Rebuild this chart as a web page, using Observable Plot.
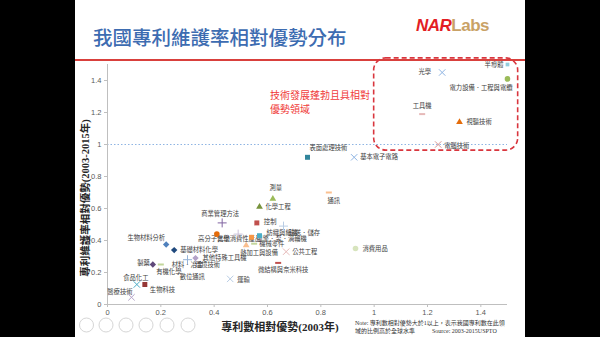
<!DOCTYPE html>
<html><head><meta charset="utf-8">
<script src="https://cdn.jsdelivr.net/npm/d3@7"></script>
<script src="https://cdn.jsdelivr.net/npm/@observablehq/plot@0.6"></script>
<style>
body{margin:0;width:600px;height:337px;background:#000;overflow:hidden;position:relative;font-family:"Noto Sans CJK TC",sans-serif}
#slide{position:absolute;left:75px;top:0;width:450px;height:337px;background:#fff}
.abs{position:absolute;white-space:nowrap}
#chart{position:absolute;left:75px;top:50px}
</style></head><body>
<div id="slide"></div>
<div class="abs" style="left:93px;top:25px;font-size:19.5px;line-height:24px;color:#3d6cb1;font-weight:500">我國專利維護率相對優勢分布</div>
<div class="abs" style="left:416px;top:16px;font-size:17px;line-height:20px;font-family:'Liberation Sans',Arial,sans-serif;font-weight:bold;letter-spacing:-0.5px"><span style="color:#e31e24;font-style:italic">NAR</span><span style="color:#c9a266">Labs</span></div>
<div class="abs" style="left:75px;top:59px;width:450px;height:2px;background:#d9403c"></div>
<div id="chart"></div>
<div class="abs" style="left:270px;top:88px;font-size:10px;line-height:14px;color:#f03c3c">技術發展蓬勃且具相對<br>優勢領域</div>
<div class="abs" style="left:84px;top:198px;transform:translate(-50%,-50%) rotate(-90deg);font-size:10.5px;font-weight:bold;color:#262626;font-family:'Liberation Serif','Noto Sans CJK TC',serif">專利維護率相對優勢(2003-2015年)</div>
<div class="abs" style="left:280px;top:326px;transform:translate(-50%,-50%);font-size:11px;font-weight:bold;color:#262626;font-family:'Liberation Serif','Noto Sans CJK TC',serif">專利數相對優勢(2003年)</div>
<div class="abs" style="left:355px;top:319px;font-size:6px;line-height:8px;color:#333;font-family:'Liberation Serif','Noto Sans CJK TC',serif">Note: 專利數相對優勢大於1以上，表示我國專利數在此領<br>域的比例高於全球水準</div>
<div class="abs" style="left:432px;top:327px;font-size:6px;line-height:8px;color:#333;font-family:'Liberation Serif','Noto Sans CJK TC',serif">Source: 2003-2015USPTO</div>
<svg class="abs" style="left:78px;top:316px" width="120" height="18">
  <g fill="none" stroke="#d6d6d6" stroke-width="1">
    <circle cx="8.5" cy="9" r="7"/><circle cx="28" cy="9" r="7"/><circle cx="48" cy="9" r="7"/>
    <circle cx="68" cy="9" r="7"/><circle cx="89" cy="9" r="7"/><circle cx="110" cy="9" r="7"/>
  </g>
</svg>
<script>
// ---- data ----
const names = ["半導體","光學","電力設備．工程與電纜","工具機","視聽技術","電腦技術","表面處理技術","基本電子電路","通訊","測量","化學工程","控制","商業管理方法","輸送．儲存","其他消費性產品","高分子化學","引擎．泵．渦輪機","紡織與紙機","熱加工與設備","機械零件","公共工程","微結構與奈米科技","消費用品","運輸","其他特殊工具機","材料．冶金","環境技術","有機化學","製藥","數位通訊","基礎材料化學","生物材料分析","食品化工","生物科技","醫療技術"];
const patentShare = [1.50,1.255,1.50,1.18,1.32,1.24,0.75,0.925,0.83,0.62,0.57,0.56,0.43,0.66,0.49,0.41,0.54,0.57,0.52,0.55,0.67,0.64,0.93,0.46,0.33,0.30,0.375,0.20,0.17,0.318,0.25,0.22,0.11,0.14,0.09];
const maintainRate = [1.50,1.45,1.41,1.19,1.14,1.00,0.92,0.92,0.70,0.66,0.61,0.51,0.51,0.49,0.44,0.44,0.42,0.43,0.37,0.38,0.33,0.26,0.35,0.16,0.29,0.28,0.244,0.25,0.25,0.169,0.34,0.375,0.125,0.125,0.045];
const xTicks = [0,0.2,0.4,0.6,0.8,1,1.2,1.4];
const xTickLabels = ["0","0.2","0.4","0.6","0.8","1","1.2","1.4"];
const yTicks = [0,0.2,0.4,0.6,0.8,1,1.2,1.4];
const yTickLabels = ["0","0.2","0.4","0.6","0.8","1","1.2","1.4"];
const referenceLevel = [1];
const regionX = [1.0, 1.54];
const regionY = [0.962, 1.538];

// ---- styling (keyed by name) ----
const look = {
 "半導體":["square","#93cddd","end",-4,0,2.1],
 "光學":["times","#8db3e2","end",-11,-1,3],
 "電力設備．工程與電纜":["circle","#9bbb59","end",5,9,2.8],
 "工具機":["dash","#e6b9b8","middle",0,-8,0],
 "視聽技術":["triangle","#e46c0a","start",7,0,2.5],
 "電腦技術":["times","#d99694","start",6,1,3],
 "表面處理技術":["square","#31859c","start",2,-9,2.8],
 "基本電子電路":["times","#8eb4e3","start",6,0,3],
 "通訊":["dash","#fac090","middle",5,8,0],
 "測量":["triangle","#9bbb59","middle",3,-11,2.5],
 "化學工程":["triangle","#77933c","start",6,0,2.5],
 "控制":["square","#c0504d","start",7,-1,2.8],
 "商業管理方法":["plus","#8064a2","middle",-2,-9,3],
 "輸送．儲存":["plus","#b9cde5","start",5,7,3],
 "其他消費性產品":["plus","#ccc1da","middle",1,5,3],
 "高分子化學":["circle","#e46c0a","middle",-3,5,2.8],
 "引擎．泵．渦輪機":["square","#f79646","start",5,2,2.8],
 "紡織與紙機":["square","#4bacc6","start",7,-3,2.8],
 "熱加工與設備":["triangle","#fabf8f","start",-6,8,2.5],
 "機械零件":["dash","#c3d69b","start",5,0,0],
 "公共工程":["times","#e6b9b8","start",6,0,3],
 "微結構與奈米科技":["dash","#c0504d","middle",5,7,0],
 "消費用品":["circle","#d7e4bd","start",7,0,2.8],
 "運輸":["times","#b9cde5","start",7,1,3],
 "其他特殊工具機":["rhomb","#b3a2c7","start",7,0,0],
 "材料．冶金":["plus","#95b3d7","middle",0,5,3],
 "環境技術":["none","#fff","middle",0,0,0],
 "有機化學":["dash","#c3d69b","middle",8,7,0],
 "製藥":["rhomb","#5f497a","end",-3,-2,0],
 "數位通訊":["none","#fff","middle",0,0,0],
 "基礎材料化學":["rhomb","#1f497d","start",6,0,0],
 "生物材料分析":["rhomb","#4f81bd","end",-1,-7,0],
 "食品化工":["times","#4bacc6","middle",-1,-7,3],
 "生物科技":["square","#953735","start",5,5,2.8],
 "醫療技術":["times","#b3a2c7","end",1,-5,3]
};
const dashSymbol = {draw(ctx){ ctx.rect(-3,-1,6,2); }};
const rhombSymbol = {draw(ctx){ ctx.moveTo(0,-3.2); ctx.lineTo(3.2,0); ctx.lineTo(0,3.2); ctx.lineTo(-3.2,0); ctx.closePath(); }};
const stroked = new Set(["times","plus"]);

const data = names.map((n,i)=>({name:n, x:patentShare[i], y:maintainRate[i]}));

const dotMarks = data.filter(d => look[d.name][0] !== "none").map(d => {
  const [sym,color,, , ,r] = look[d.name];
  if (sym === "dash") return Plot.dot([d], {x:"x", y:"y", symbol: dashSymbol, r: 3, fill: color, stroke: "none"});
  if (sym === "rhomb") return Plot.dot([d], {x:"x", y:"y", symbol: rhombSymbol, r: 3, fill: color, stroke: "none"});
  if (stroked.has(sym)) return Plot.dot([d], {x:"x", y:"y", symbol: sym, r, stroke: color, strokeWidth: 1, fill: "none"});
  return Plot.dot([d], {x:"x", y:"y", symbol: sym, r, fill: color, stroke: "none"});
});
const textMarks = data.map(d => {
  const [, , anchor, dx, dy] = look[d.name];
  return Plot.text([d], {x:"x", y:"y", text:"name", textAnchor: anchor, dx, dy, fontSize: 6.3, fill: "#404040", fontFamily: "Noto Sans CJK TC"});
});

const chart = Plot.plot({
  width: 450, height: 287,
  marginLeft: 32, marginRight: 18, marginTop: 14, marginBottom: 33,
  x: {domain: [0, 1.5]},
  y: {domain: [0, 1.5]},
  style: {fontSize: "7.5px", color: "#595959", fontFamily: "'Liberation Sans', Arial, sans-serif", background: "transparent", overflow: "visible"},
  marks: [
    Plot.ruleY(referenceLevel, {stroke: "#8eb4e3", strokeDasharray: "1.5,2", strokeWidth: 1}),
    Plot.ruleX([0], {stroke: "#bfbfbf"}),
    Plot.ruleY([0], {stroke: "#bfbfbf"}),
    Plot.axisX({ticks: xTicks, tickFormat: d => xTickLabels[xTicks.indexOf(d)], tickSize: 3, tickPadding: 2, stroke: "#bfbfbf", fill: "#595959", label: null}),
    Plot.axisY({ticks: yTicks, tickFormat: d => yTickLabels[yTicks.indexOf(d)], tickSize: 3, tickPadding: 3, stroke: "#bfbfbf", fill: "#595959", label: null}),
    Plot.rect([{}], {x1: regionX[0], x2: regionX[1], y1: regionY[0], y2: regionY[1], rx: 12, fill: "none", stroke: "#d9363e", strokeWidth: 1.6, strokeDasharray: "5,3"}),
    ...textMarks,
    ...dotMarks
  ]
});
document.getElementById("chart").appendChild(chart);
</script>
</body></html>
